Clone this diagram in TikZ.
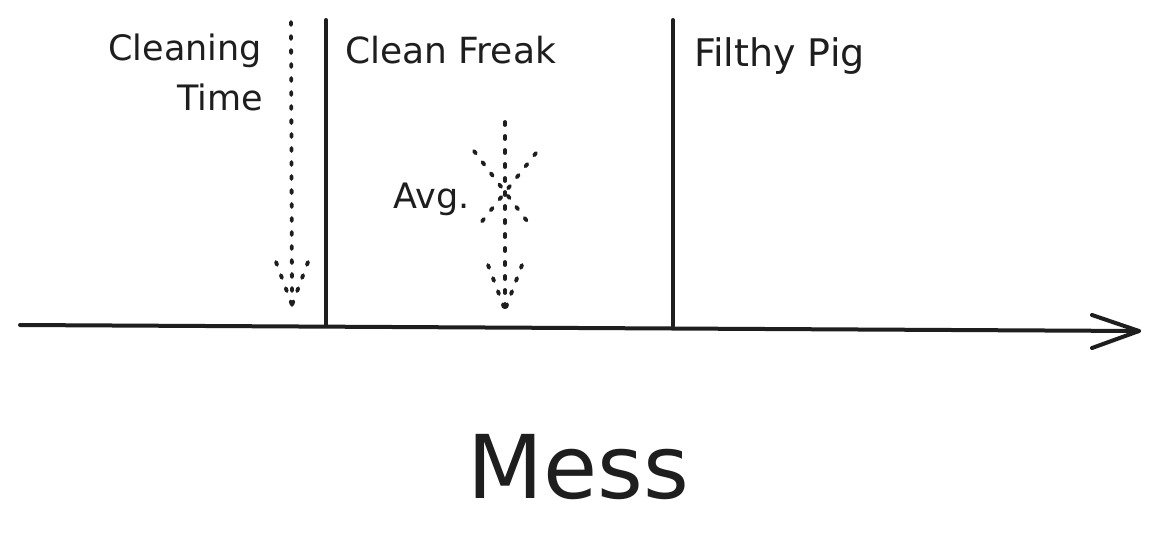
\documentclass[tikz,border=0pt]{standalone}
\usepackage{fontspec}
\setmainfont{DejaVu Sans}
\definecolor{ink}{HTML}{1E1E1E}
\begin{document}
\begin{tikzpicture}[x=1pt,y=-1pt,
  solidline/.style={draw=ink,line width=4pt,line cap=round},
  dotline/.style={draw=ink,line width=3.8pt,line cap=round,dash pattern=on 3pt off 11pt},
  lbl/.style={text=ink,inner sep=0pt,font=\fontsize{35}{40}\selectfont},
  big/.style={text=ink,inner sep=0pt,font=\fontsize{88}{96}\selectfont}]
\useasboundingbox (0,0) rectangle (1158,549);
\fill[white] (0,0) rectangle (1158,549);
% axis
\coordinate (axL) at (20,325);
\coordinate (axR) at (1139,331);
\coordinate (axB1) at (1092,315);
\coordinate (axB2) at (1092,348);
\draw[solidline] (axL) -- (axR);
\draw[solidline,line join=round] (axB1) -- (axR) -- (axB2);
% vertical separators
\coordinate (s1t) at (326,20); \coordinate (s1b) at (326,326);
\coordinate (s2t) at (673,20); \coordinate (s2b) at (673,326);
\draw[solidline] (s1t) -- (s1b);
\draw[solidline] (s2t) -- (s2b);
% cleaning time arrow
\coordinate (ctT) at (291,22); \coordinate (ctH) at (292,305);
\coordinate (ctL) at (276,262); \coordinate (ctR) at (308,262);
\draw[dotline] (ctT) -- (ctH);
\draw[dotline] (ctL) -- (ctH);
\draw[dotline] (ctR) -- (ctH);
% avg arrow
\coordinate (avT) at (505,122); \coordinate (avH) at (505,310);
\coordinate (avL) at (488,265); \coordinate (avR) at (522,265);
\draw[dotline] (avT) -- (avH);
\draw[dotline] (avL) -- (avH);
\draw[dotline] (avR) -- (avH);
% avg cross
\coordinate (x1a) at (474,151); \coordinate (x1b) at (533,229);
\coordinate (x2a) at (536,153); \coordinate (x2b) at (476,229);
\draw[dotline] (x1a) -- (x1b);
\draw[dotline] (x2a) -- (x2b);
% labels
\node[lbl,anchor=base east] (clean1) at (262,60) {Cleaning};
\node[lbl,anchor=base east] (clean2) at (263,110) {Time};
\node[lbl,anchor=base west,font=\fontsize{36}{40}\selectfont] (cf) at (345,63) {Clean Freak};
\node[lbl,anchor=base west,font=\fontsize{38}{42}\selectfont] (fp) at (694,66) {Filthy Pig};
\node[lbl,anchor=base east] (avg) at (470,208) {Avg.};
\node[big,anchor=base] (mess) at (578,498) {Mess};
\end{tikzpicture}
\end{document}
